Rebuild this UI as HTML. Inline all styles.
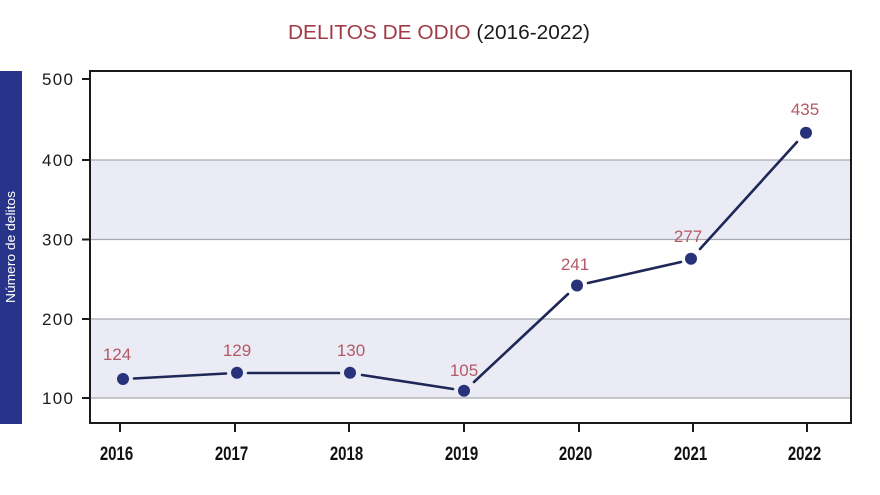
<!DOCTYPE html>
<html><head><meta charset="utf-8"><style>
html,body{margin:0;padding:0;background:#fff;}
svg{display:block;}
</style></head><body>
<svg width="880" height="495" viewBox="0 0 880 495" xmlns="http://www.w3.org/2000/svg">
<rect width="880" height="495" fill="#fff"/>
<!-- title -->
<text x="288" y="39" font-family="Liberation Sans, sans-serif" font-size="20" textLength="302" lengthAdjust="spacingAndGlyphs"><tspan fill="#a23a45">DELITOS DE ODIO</tspan><tspan fill="#1a1a1a"> (2016-2022)</tspan></text>
<!-- side bar -->
<rect x="0" y="71" width="22" height="353" fill="#28348a"/>
<text transform="translate(15,247) rotate(-90)" text-anchor="middle" font-family="Liberation Sans, sans-serif" font-size="13" fill="#fff" textLength="112" lengthAdjust="spacingAndGlyphs">Número de delitos</text>
<!-- bands -->
<rect x="91" y="160" width="760" height="79.5" fill="#ebebf5"/>
<rect x="91" y="319" width="760" height="79" fill="#ebebf5"/>
<g stroke="#a8a8b0" stroke-width="1.2">
<line x1="91" y1="160" x2="851" y2="160"/>
<line x1="91" y1="239.5" x2="851" y2="239.5"/>
<line x1="91" y1="319" x2="851" y2="319"/>
<line x1="91" y1="398" x2="851" y2="398"/>
</g>
<!-- frame -->
<rect x="90" y="71" width="761" height="352" fill="none" stroke="#1a1a1a" stroke-width="2"/>
<!-- y ticks -->
<g stroke="#1a1a1a" stroke-width="2">
<line x1="82" y1="79" x2="90" y2="79"/>
<line x1="82" y1="160" x2="90" y2="160"/>
<line x1="82" y1="239.5" x2="90" y2="239.5"/>
<line x1="82" y1="319" x2="90" y2="319"/>
<line x1="82" y1="398" x2="90" y2="398"/>
</g>
<g font-family="Liberation Sans, sans-serif" font-size="17" fill="#1a1a1a" lengthAdjust="spacingAndGlyphs">
<text x="42" y="85" textLength="31">500</text>
<text x="42" y="166" textLength="31">400</text>
<text x="42" y="245.5" textLength="31">300</text>
<text x="42" y="325" textLength="31">200</text>
<text x="42" y="404" textLength="31">100</text>
</g>
<!-- x ticks -->
<g stroke="#1a1a1a" stroke-width="2">
<line x1="120" y1="423" x2="120" y2="432"/>
<line x1="235" y1="423" x2="235" y2="432"/>
<line x1="349" y1="423" x2="349" y2="432"/>
<line x1="464" y1="423" x2="464" y2="432"/>
<line x1="579" y1="423" x2="579" y2="432"/>
<line x1="693" y1="423" x2="693" y2="432"/>
<line x1="807" y1="423" x2="807" y2="432"/>
</g>
<g font-family="Liberation Sans, sans-serif" font-weight="bold" font-size="19" fill="#111" text-anchor="middle">
<text transform="translate(116.5,460) scale(0.79,1)">2016</text>
<text transform="translate(231.5,460) scale(0.79,1)">2017</text>
<text transform="translate(346.5,460) scale(0.79,1)">2018</text>
<text transform="translate(461.5,460) scale(0.79,1)">2019</text>
<text transform="translate(575.5,460) scale(0.79,1)">2020</text>
<text transform="translate(690.5,460) scale(0.79,1)">2021</text>
<text transform="translate(804.5,460) scale(0.79,1)">2022</text>
</g>
<!-- line segments with gaps -->
<g stroke="#1e2757" stroke-width="2.6" stroke-linecap="round" fill="none">
<line x1="134" y1="378.5" x2="226" y2="373.5"/>
<line x1="248" y1="373" x2="339" y2="373"/>
<line x1="362" y1="375" x2="453" y2="389"/>
<line x1="474" y1="382" x2="568" y2="294"/>
<line x1="588" y1="283" x2="681" y2="262"/>
<line x1="700" y1="249" x2="797" y2="142"/>
</g>
<g fill="#27327a">
<circle cx="123" cy="379" r="6"/>
<circle cx="237" cy="372.7" r="6"/>
<circle cx="350" cy="372.7" r="6"/>
<circle cx="464" cy="390.7" r="6"/>
<circle cx="577" cy="285.5" r="6"/>
<circle cx="691" cy="258.7" r="6"/>
<circle cx="806" cy="132.7" r="6"/>
</g>
<g font-family="Liberation Sans, sans-serif" font-size="17" fill="#b45a64" text-anchor="middle">
<text x="117" y="360">124</text>
<text x="237" y="356">129</text>
<text x="351" y="356">130</text>
<text x="464" y="376">105</text>
<text x="575" y="270">241</text>
<text x="688" y="242">277</text>
<text x="805" y="115">435</text>
</g>
</svg>
</body></html>
